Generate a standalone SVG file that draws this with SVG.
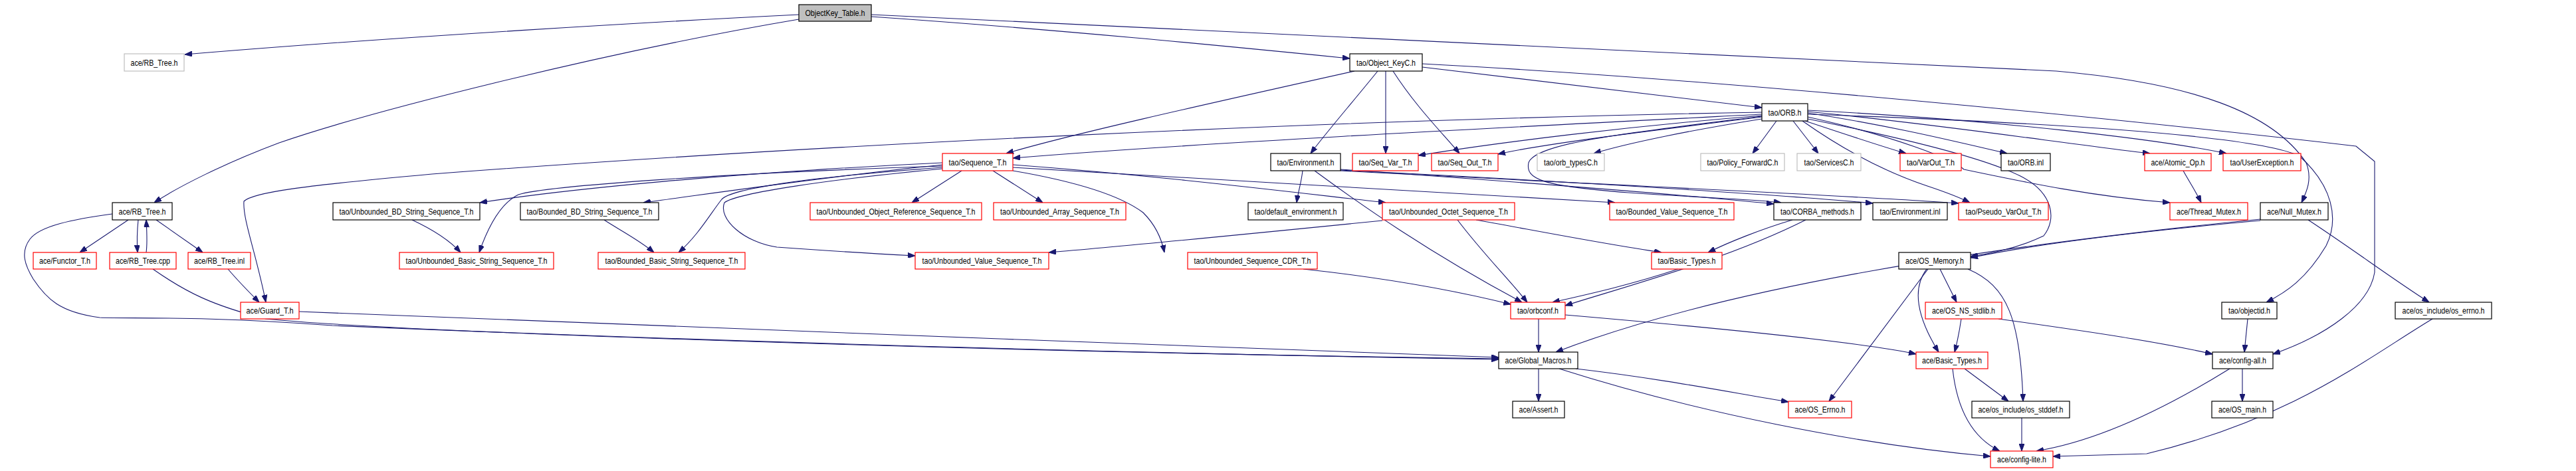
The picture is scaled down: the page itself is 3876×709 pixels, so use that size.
<svg xmlns="http://www.w3.org/2000/svg" width="3876" height="709" viewBox="0 0 3876 709">
<style>
.n rect{fill:#fff;stroke-width:1.2}
.b rect{stroke:#000}
.r rect{stroke:#f00}
.g rect{stroke:#bfbfbf}
.root rect{fill:#bfbfbf;stroke:#000}
text{font-family:"Liberation Sans",Arial,sans-serif;font-size:13px;fill:#000;text-anchor:middle}
#edges path{fill:none;stroke:#191970;stroke-width:1.1;marker-end:url(#ah)}
</style>
<defs>
<marker id="ah" markerUnits="userSpaceOnUse" markerWidth="11" markerHeight="8" refX="11" refY="4" orient="auto"><path d="M0,0 L11,4 L0,8 z" fill="#191970" stroke="#191970"/></marker>
</defs>
<rect width="3876" height="709" fill="#fff"/>
<g id="edges">
<path d="M1202,22 C1000,32 600,55 278,82"/>
<path d="M1202,29 C900,80 550,170 420,215 C340,245 270,280 232,305"/>
<path d="M1311,25 C1600,45 1850,70 2031,88"/>
<path d="M1311,22 C1800,50 2400,75 3094,107 C3300,125 3420,170 3470,245 C3480,270 3470,290 3463,305"/>
<path d="M2038,107 C1800,160 1600,205 1514,231"/>
<path d="M2073,107 C2030,160 1995,200 1972,231"/>
<path d="M2085,107 L2085,231"/>
<path d="M2096,107 C2130,160 2170,200 2196,231"/>
<path d="M2140,101 C2350,125 2550,150 2651,162"/>
<path d="M2140,96 C2600,120 3200,180 3545,220 L3573,243 L3573,410 C3565,460 3500,505 3420,533"/>
<path d="M2651,172 C2300,190 1800,215 1524,238"/>
<path d="M2651,174 C2450,190 2250,215 2134,234"/>
<path d="M2651,176 C2500,195 2330,215 2254,232"/>
<path d="M2651,179 C2550,195 2450,215 2398,231"/>
<path d="M2673,182 L2637,231"/>
<path d="M2698,182 L2736,231"/>
<path d="M2716,182 C2770,200 2830,220 2868,231"/>
<path d="M2720,170 C2850,190 2950,215 3020,231"/>
<path d="M2720,168 C2900,185 3100,215 3235,231"/>
<path d="M2720,166 C3000,180 3250,210 3350,231"/>
<path d="M2720,176 C2850,205 2940,240 2955,255 C3050,275 3150,296 3265,305"/>
<path d="M2720,179 C2850,205 2980,235 3040,265 C3090,290 3095,330 3075,355 C3040,372 3000,381 2965,386"/>
<path d="M2720,172 C3100,185 3400,205 3460,235 C3510,280 3520,330 3500,370 C3470,420 3440,440 3410,455"/>
<path d="M2651,169 C2000,180 1200,220 650,262 C450,280 380,290 367,303 C365,330 385,380 400,455"/>
<path d="M2651,175 C2450,200 2310,215 2300,245 C2295,270 2320,280 2450,290 C2600,300 2640,300 2680,305"/>
<path d="M2712,182 C2780,230 2840,260 2900,280 C2930,290 2950,298 2964,305"/>
<path d="M1960,257 C1958,275 1953,290 1951,305"/>
<path d="M1978,257 C2050,310 2150,380 2290,455"/>
<path d="M2017,255 C2300,275 2550,295 2669,307"/>
<path d="M2017,256 C2400,275 2700,295 2818,306"/>
<path d="M2017,257 C2450,280 2800,295 2947,306"/>
<path d="M1447,257 L1372,305"/>
<path d="M1494,257 L1569,305"/>
<path d="M1418,245 C1100,260 850,285 722,305"/>
<path d="M1418,248 C1250,265 1080,290 968,305"/>
<path d="M1418,250 C1100,260 820,280 780,293 C755,305 735,340 721,380"/>
<path d="M1418,252 C1200,268 1100,285 1086,300 C1070,320 1050,355 1021,380"/>
<path d="M1418,254 C1250,270 1110,290 1090,305 C1080,330 1120,365 1169,372 C1250,378 1320,382 1377,385"/>
<path d="M1524,257 C1600,270 1680,290 1720,320 C1740,340 1748,360 1752,380"/>
<path d="M1524,248 C1750,265 1950,290 2085,305"/>
<path d="M1524,252 C1800,270 2200,290 2430,305"/>
<path d="M2080,332 C1900,350 1700,370 1578,380"/>
<path d="M2193,331 C2230,380 2270,420 2298,455"/>
<path d="M2221,331 C2300,345 2400,365 2500,380"/>
<path d="M2697,331 C2650,345 2600,365 2570,380"/>
<path d="M2717,331 C2600,390 2450,430 2355,460"/>
<path d="M2525,405 C2450,430 2380,445 2336,455"/>
<path d="M1961,405 C2100,420 2200,440 2273,458"/>
<path d="M2315,480 L2315,530"/>
<path d="M2355,474 C2600,495 2800,515 2883,533"/>
<path d="M3401,330 C3000,370 2600,430 2341,530"/>
<path d="M3401,332 C3200,350 3050,370 2965,388"/>
<path d="M3473,331 C3540,375 3600,420 3655,455"/>
<path d="M3285,257 C3295,275 3305,290 3312,305"/>
<path d="M193,331 L120,380"/>
<path d="M208,331 C206,350 206,365 207,380"/>
<path d="M220,380 C222,365 221,350 220,331"/>
<path d="M235,331 L305,380"/>
<path d="M169,322 C110,330 60,340 45,360 C30,380 38,400 50,420 C70,450 90,470 150,478 C200,480 300,475 500,490 C1200,520 1900,535 2255,541"/>
<path d="M230,405 C280,440 320,460 400,480 C600,500 1500,530 2255,540"/>
<path d="M343,405 C360,425 375,440 390,455"/>
<path d="M450,469 C800,480 1700,520 2255,538"/>
<path d="M2919,405 L2944,455"/>
<path d="M2899,405 C2880,430 2880,470 2917,530"/>
<path d="M2901,405 C2860,460 2800,540 2752,604"/>
<path d="M2961,405 C3020,430 3040,480 3044,604"/>
<path d="M2951,480 C2948,500 2945,515 2941,530"/>
<path d="M3007,480 C3150,500 3250,515 3329,533"/>
<path d="M2956,555 L3022,604"/>
<path d="M2938,555 C2945,620 2970,660 3009,679"/>
<path d="M3042,629 L3042,679"/>
<path d="M3355,555 C3250,620 3150,665 3064,679"/>
<path d="M3374,555 L3374,604"/>
<path d="M3382,480 L3377,530"/>
<path d="M3660,480 C3560,540 3450,630 3230,683 L3089,687"/>
<path d="M2371,555 C2500,570 2600,590 2691,605"/>
<path d="M2346,555 C2550,620 2800,670 2995,687"/>
<path d="M2315,555 L2315,604"/>
<path d="M620,331 C650,345 675,360 693,380"/>
<path d="M909,331 C930,345 960,360 984,380"/>
</g>
<g id="n_okt" class="n root"><rect x="1202" y="7" width="109" height="25"/><text x="1256.5" y="24" textLength="90" lengthAdjust="spacingAndGlyphs">ObjectKey_Table.h</text></g>
<g id="n_rbtree_ext" class="n g"><rect x="187" y="81" width="90" height="26"/><text x="232" y="99" textLength="71" lengthAdjust="spacingAndGlyphs">ace/RB_Tree.h</text></g>
<g id="n_objkeyc" class="n b"><rect x="2031" y="81" width="109" height="26"/><text x="2085.5" y="99" textLength="89" lengthAdjust="spacingAndGlyphs">tao/Object_KeyC.h</text></g>
<g id="n_orb" class="n b"><rect x="2651" y="156" width="69" height="26"/><text x="2685.5" y="174" textLength="50" lengthAdjust="spacingAndGlyphs">tao/ORB.h</text></g>
<g id="n_seqt" class="n r"><rect x="1418" y="231" width="106" height="26"/><text x="1471" y="249" textLength="87" lengthAdjust="spacingAndGlyphs">tao/Sequence_T.h</text></g>
<g id="n_envh" class="n b"><rect x="1912" y="231" width="105" height="26"/><text x="1964.5" y="249" textLength="86" lengthAdjust="spacingAndGlyphs">tao/Environment.h</text></g>
<g id="n_seqvar" class="n r"><rect x="2035" y="231" width="99" height="26"/><text x="2084.5" y="249" textLength="80" lengthAdjust="spacingAndGlyphs">tao/Seq_Var_T.h</text></g>
<g id="n_seqout" class="n r"><rect x="2154" y="231" width="100" height="26"/><text x="2204" y="249" textLength="81" lengthAdjust="spacingAndGlyphs">tao/Seq_Out_T.h</text></g>
<g id="n_orbtypes" class="n g"><rect x="2313" y="231" width="101" height="26"/><text x="2363.5" y="249" textLength="81" lengthAdjust="spacingAndGlyphs">tao/orb_typesC.h</text></g>
<g id="n_policyfwd" class="n g"><rect x="2559" y="231" width="126" height="26"/><text x="2622" y="249" textLength="107" lengthAdjust="spacingAndGlyphs">tao/Policy_ForwardC.h</text></g>
<g id="n_services" class="n g"><rect x="2704" y="231" width="96" height="26"/><text x="2752" y="249" textLength="75" lengthAdjust="spacingAndGlyphs">tao/ServicesC.h</text></g>
<g id="n_varout" class="n r"><rect x="2859" y="231" width="92" height="26"/><text x="2905" y="249" textLength="72" lengthAdjust="spacingAndGlyphs">tao/VarOut_T.h</text></g>
<g id="n_orbinl" class="n b"><rect x="3011" y="231" width="74" height="26"/><text x="3048" y="249" textLength="54" lengthAdjust="spacingAndGlyphs">tao/ORB.inl</text></g>
<g id="n_atomic" class="n r"><rect x="3227" y="231" width="100" height="26"/><text x="3277" y="249" textLength="81" lengthAdjust="spacingAndGlyphs">ace/Atomic_Op.h</text></g>
<g id="n_userexc" class="n r"><rect x="3345" y="231" width="117" height="26"/><text x="3403.5" y="249" textLength="96" lengthAdjust="spacingAndGlyphs">tao/UserException.h</text></g>
<g id="n_rbtree" class="n b"><rect x="169" y="305" width="90" height="26"/><text x="214" y="323" textLength="71" lengthAdjust="spacingAndGlyphs">ace/RB_Tree.h</text></g>
<g id="n_ubdstr" class="n b"><rect x="501" y="305" width="221" height="26"/><text x="611.5" y="323" textLength="202" lengthAdjust="spacingAndGlyphs">tao/Unbounded_BD_String_Sequence_T.h</text></g>
<g id="n_bbdstr" class="n b"><rect x="783" y="305" width="208" height="26"/><text x="887" y="323" textLength="189" lengthAdjust="spacingAndGlyphs">tao/Bounded_BD_String_Sequence_T.h</text></g>
<g id="n_uobjref" class="n r"><rect x="1219" y="305" width="258" height="26"/><text x="1348" y="323" textLength="239" lengthAdjust="spacingAndGlyphs">tao/Unbounded_Object_Reference_Sequence_T.h</text></g>
<g id="n_uarr" class="n r"><rect x="1495" y="305" width="199" height="26"/><text x="1594.5" y="323" textLength="179" lengthAdjust="spacingAndGlyphs">tao/Unbounded_Array_Sequence_T.h</text></g>
<g id="n_defenv" class="n b"><rect x="1878" y="305" width="143" height="26"/><text x="1949.5" y="323" textLength="124" lengthAdjust="spacingAndGlyphs">tao/default_environment.h</text></g>
<g id="n_uoct" class="n r"><rect x="2080" y="305" width="199" height="26"/><text x="2179.5" y="323" textLength="179" lengthAdjust="spacingAndGlyphs">tao/Unbounded_Octet_Sequence_T.h</text></g>
<g id="n_bval" class="n r"><rect x="2422" y="305" width="187" height="26"/><text x="2515.5" y="323" textLength="168" lengthAdjust="spacingAndGlyphs">tao/Bounded_Value_Sequence_T.h</text></g>
<g id="n_corba" class="n b"><rect x="2669" y="305" width="131" height="26"/><text x="2734.5" y="323" textLength="111" lengthAdjust="spacingAndGlyphs">tao/CORBA_methods.h</text></g>
<g id="n_envinl" class="n b"><rect x="2818" y="305" width="112" height="26"/><text x="2874" y="323" textLength="91" lengthAdjust="spacingAndGlyphs">tao/Environment.inl</text></g>
<g id="n_pseudo" class="n r"><rect x="2947" y="305" width="135" height="26"/><text x="3014.5" y="323" textLength="114" lengthAdjust="spacingAndGlyphs">tao/Pseudo_VarOut_T.h</text></g>
<g id="n_thread" class="n r"><rect x="3265" y="305" width="117" height="26"/><text x="3323.5" y="323" textLength="97" lengthAdjust="spacingAndGlyphs">ace/Thread_Mutex.h</text></g>
<g id="n_null" class="n b"><rect x="3401" y="305" width="102" height="26"/><text x="3452" y="323" textLength="82" lengthAdjust="spacingAndGlyphs">ace/Null_Mutex.h</text></g>
<g id="n_functor" class="n r"><rect x="50" y="380" width="95" height="25"/><text x="97.5" y="397" textLength="77" lengthAdjust="spacingAndGlyphs">ace/Functor_T.h</text></g>
<g id="n_rbcpp" class="n r"><rect x="165" y="380" width="100" height="25"/><text x="215" y="397" textLength="82" lengthAdjust="spacingAndGlyphs">ace/RB_Tree.cpp</text></g>
<g id="n_rbinl" class="n r"><rect x="283" y="380" width="94" height="25"/><text x="330" y="397" textLength="76" lengthAdjust="spacingAndGlyphs">ace/RB_Tree.inl</text></g>
<g id="n_ubasic" class="n r"><rect x="601" y="380" width="232" height="25"/><text x="717" y="397" textLength="213" lengthAdjust="spacingAndGlyphs">tao/Unbounded_Basic_String_Sequence_T.h</text></g>
<g id="n_bbasic" class="n r"><rect x="900" y="380" width="221" height="25"/><text x="1010.5" y="397" textLength="200" lengthAdjust="spacingAndGlyphs">tao/Bounded_Basic_String_Sequence_T.h</text></g>
<g id="n_uval" class="n r"><rect x="1377" y="380" width="201" height="25"/><text x="1477.5" y="397" textLength="180" lengthAdjust="spacingAndGlyphs">tao/Unbounded_Value_Sequence_T.h</text></g>
<g id="n_ucdr" class="n r"><rect x="1787" y="380" width="195" height="25"/><text x="1884.5" y="397" textLength="176" lengthAdjust="spacingAndGlyphs">tao/Unbounded_Sequence_CDR_T.h</text></g>
<g id="n_tbasic" class="n r"><rect x="2485" y="380" width="106" height="25"/><text x="2538" y="397" textLength="87" lengthAdjust="spacingAndGlyphs">tao/Basic_Types.h</text></g>
<g id="n_osmem" class="n b"><rect x="2857" y="380" width="108" height="25"/><text x="2911" y="397" textLength="88" lengthAdjust="spacingAndGlyphs">ace/OS_Memory.h</text></g>
<g id="n_guard" class="n r"><rect x="362" y="455" width="88" height="25"/><text x="406" y="472" textLength="71" lengthAdjust="spacingAndGlyphs">ace/Guard_T.h</text></g>
<g id="n_orbconf" class="n r"><rect x="2273" y="455" width="82" height="25"/><text x="2314" y="472" textLength="62" lengthAdjust="spacingAndGlyphs">tao/orbconf.h</text></g>
<g id="n_osns" class="n r"><rect x="2897" y="455" width="115" height="25"/><text x="2954.5" y="472" textLength="95" lengthAdjust="spacingAndGlyphs">ace/OS_NS_stdlib.h</text></g>
<g id="n_objectid" class="n b"><rect x="3343" y="455" width="83" height="25"/><text x="3384.5" y="472" textLength="63" lengthAdjust="spacingAndGlyphs">tao/objectid.h</text></g>
<g id="n_oserrno" class="n b"><rect x="3604" y="455" width="145" height="25"/><text x="3676.5" y="472" textLength="124" lengthAdjust="spacingAndGlyphs">ace/os_include/os_errno.h</text></g>
<g id="n_gm" class="n b"><rect x="2255" y="530" width="119" height="25"/><text x="2314.5" y="547" textLength="100" lengthAdjust="spacingAndGlyphs">ace/Global_Macros.h</text></g>
<g id="n_abasic" class="n r"><rect x="2883" y="530" width="108" height="25"/><text x="2937" y="547" textLength="90" lengthAdjust="spacingAndGlyphs">ace/Basic_Types.h</text></g>
<g id="n_cfgall" class="n b"><rect x="3329" y="530" width="91" height="25"/><text x="3374.5" y="547" textLength="71" lengthAdjust="spacingAndGlyphs">ace/config-all.h</text></g>
<g id="n_assert" class="n b"><rect x="2276" y="604" width="78" height="25"/><text x="2315" y="621" textLength="59" lengthAdjust="spacingAndGlyphs">ace/Assert.h</text></g>
<g id="n_oserrno2" class="n r"><rect x="2691" y="604" width="95" height="25"/><text x="2738.5" y="621" textLength="76" lengthAdjust="spacingAndGlyphs">ace/OS_Errno.h</text></g>
<g id="n_stddef" class="n b"><rect x="2967" y="604" width="147" height="25"/><text x="3040.5" y="621" textLength="128" lengthAdjust="spacingAndGlyphs">ace/os_include/os_stddef.h</text></g>
<g id="n_osmain" class="n b"><rect x="3328" y="604" width="92" height="25"/><text x="3374" y="621" textLength="72" lengthAdjust="spacingAndGlyphs">ace/OS_main.h</text></g>
<g id="n_cfglite" class="n r"><rect x="2995" y="679" width="94" height="25"/><text x="3042" y="696" textLength="74" lengthAdjust="spacingAndGlyphs">ace/config-lite.h</text></g>
</svg>
